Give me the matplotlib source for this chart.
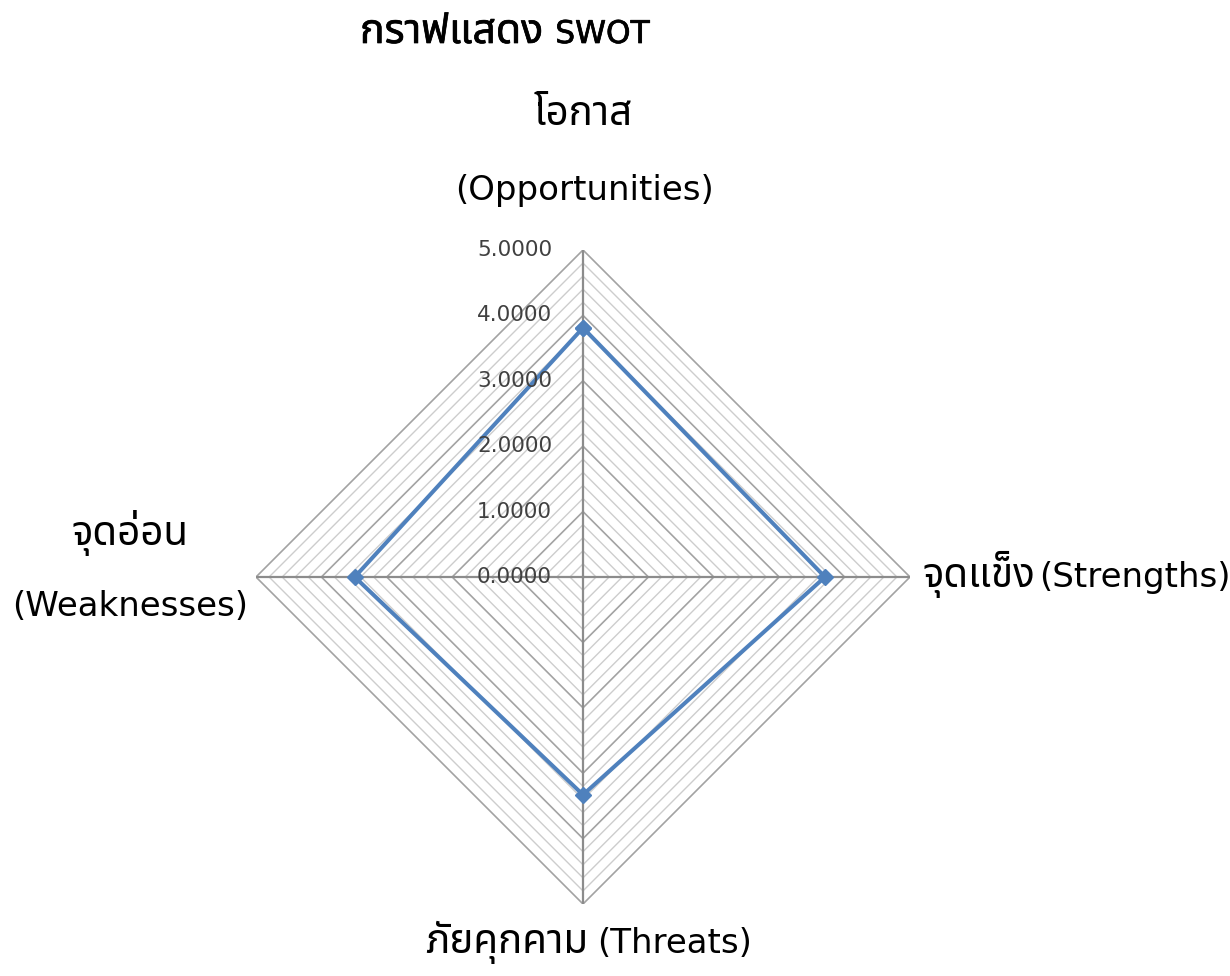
import numpy as np
import matplotlib
matplotlib.use("Agg")
import matplotlib.pyplot as plt
import matplotlib.patheffects as pe
from matplotlib import font_manager
from matplotlib.ft2font import FT2Font

# ---------------- data ----------------
title_th = "กราฟแสดง"
title_en = "SWOT"
categories_th = ["โอกาส", "จุดแข็ง", "ภัยคุกคาม", "จุดอ่อน"]
categories_en = ["(Opportunities)", "(Strengths)", "(Threats)", "(Weaknesses)"]
values = [3.81, 3.70, 3.33, 3.49]
tick_values = [0, 1, 2, 3, 4, 5]
tick_labels = ["0.0000", "1.0000", "2.0000", "3.0000", "4.0000", "5.0000"]
minor_step = 0.2

# ---------------- font with Thai glyphs ----------------
thai_family = None
preferred = ["Noto Sans Thai", "Noto Sans Thai UI", "Leelawadee UI", "Tahoma",
             "Loma", "Garuda", "Tlwg Typo", "Waree", "Umpush", "Sarabun", "FreeSans"]
cands = []
for fe in font_manager.fontManager.ttflist:
    try:
        cm = FT2Font(fe.fname).get_charmap()
    except Exception:
        continue
    if ord("ก") in cm and ord("ุ") in cm:
        cands.append(fe.name)
for p in preferred:
    if p in cands:
        thai_family = p
        break
if thai_family is None and cands:
    thai_family = cands[0]
TH = ([thai_family] if thai_family else []) + ["DejaVu Sans"]
EN = ["DejaVu Sans"]
plt.rcParams["font.family"] = EN

W, H = 1230, 976
fig = plt.figure(figsize=(W / 100, H / 100), dpi=100)

# ---------------- polar axes ----------------
cx, cy, R = 583, 577, 327
ax = fig.add_axes([(cx - R) / W, (H - cy - R) / H, 2 * R / W, 2 * R / H], projection="polar")
ax.set_theta_offset(np.pi / 2)
ax.set_theta_direction(-1)
ax.set_ylim(0, 5)
ax.grid(False)
ax.spines["polar"].set_visible(False)
ax.set_xticks([])
ax.set_yticks([])
ax.patch.set_alpha(0)

n = len(categories_th)
angles = np.arange(n) * 2 * np.pi / n
closed = np.append(angles, angles[0])

levels = np.round(np.arange(minor_step, 5 + 1e-9, minor_step), 4)
for lv in levels:
    major = abs(lv - round(lv)) < 1e-6
    ax.plot(closed, [lv] * (n + 1),
            color="#a3a3a3" if major else "#cdcdcd",
            lw=1.2 if major else 1.0, zorder=1, solid_joinstyle="miter")
for a in angles:
    ax.plot([a, a], [0, 5], color="#8c8c8c", lw=1.6, zorder=2)

ax.plot(closed, np.append(values, values[0]), color="#4f81bd", lw=2.9,
        marker="D", markersize=8.5, zorder=5, solid_joinstyle="miter")

for v, lab in zip(tick_values, tick_labels):
    ax.annotate(lab, xy=(0, v), xytext=(-22.3, 0), textcoords="offset points",
                ha="right", va="center", fontsize=15.5, color="#404040", zorder=6)

# ---------------- texts ----------------
fs_th, fs_en = 29, 24.5


def ftext(x, y_top, s, **kw):
    return fig.text(x / W, (H - y_top) / H, s, va="baseline", **kw)


def pair(th, en, x, y_base, gap, fs_t=fs_th, fs_e=fs_en, effects=None):
    t1 = ftext(x, y_base, th, ha="left", fontsize=fs_t, family=TH,
               path_effects=effects)
    ax.annotate(en, xy=(1, H - y_base), xycoords=(t1, "figure pixels"),
                xytext=(gap, 0), textcoords="offset pixels",
                ha="left", va="baseline", fontsize=fs_e, family=EN,
                annotation_clip=False, path_effects=effects)


# title (semi-bold look)
semibold = [pe.withStroke(linewidth=0.5, foreground="black")]
pair(title_th, title_en, 360, 43, 12, fs_t=29.5, fs_e=22.5, effects=semibold)

# top (Opportunities)
ftext(583.5, 125, categories_th[0], ha="center", fontsize=fs_th, family=TH)
ftext(584.5, 200, categories_en[0], ha="center", fontsize=fs_en, family=EN)

# right (Strengths)
pair(categories_th[1], categories_en[1], 922, 587, 4)

# bottom (Threats)
pair(categories_th[2], categories_en[2], 425, 953, 9)

# left (Weaknesses)
ftext(130, 545, categories_th[3], ha="center", fontsize=fs_th, family=TH)
ftext(130, 616, categories_en[3], ha="center", fontsize=fs_en, family=EN)

fig.savefig("out.png", dpi=100, facecolor="white")
